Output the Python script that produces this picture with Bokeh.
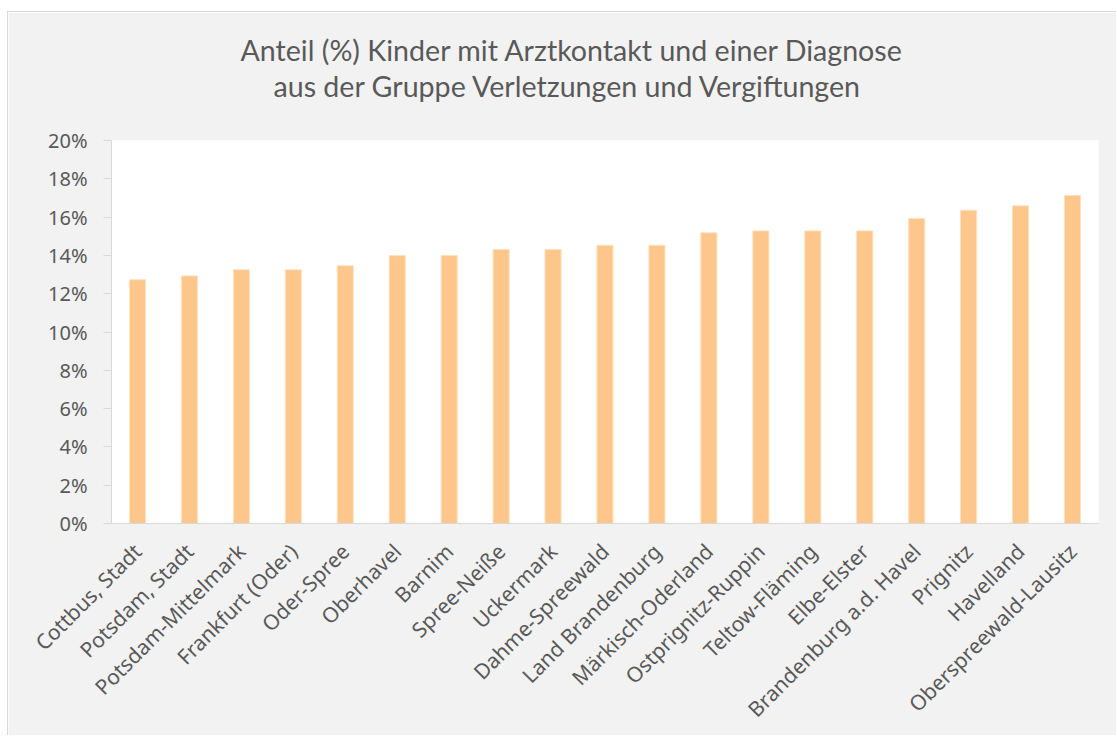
from bokeh.plotting import figure
from bokeh.models import ColumnDataSource, Title, NumeralTickFormatter, SingleIntervalTicker, Range1d
from bokeh.embed import file_html
from bokeh.resources import INLINE
import math

regions = [
    "Cottbus, Stadt", "Potsdam, Stadt", "Potsdam-Mittelmark", "Frankfurt (Oder)",
    "Oder-Spree", "Oberhavel", "Barnim", "Spree-Neiße", "Uckermark",
    "Dahme-Spreewald", "Land Brandenburg", "Märkisch-Oderland",
    "Ostprignitz-Ruppin", "Teltow-Fläming", "Elbe-Elster",
    "Brandenburg a.d. Havel", "Prignitz", "Havelland", "Oberspreewald-Lausitz",
]
shares = [
    0.1273, 0.1293, 0.1325, 0.1325, 0.1346, 0.1399, 0.1400, 0.1431, 0.1431,
    0.1453, 0.1453, 0.1518, 0.1528, 0.1528, 0.1528, 0.1593, 0.1636, 0.1659, 0.1713,
]
title_lines = [
    "Anteil (%) Kinder mit Arztkontakt und einer Diagnose",
    "aus der Gruppe Verletzungen und Vergiftungen",
]

TEXT = "#595959"
GRID = "#d9d9d9"
BG = "#f2f2f2"

src = ColumnDataSource(dict(region=regions, share=shares))

p = figure(
    x_range=regions, y_range=Range1d(0, 0.20),
    width=1109, height=724,
    output_backend="svg", toolbar_location=None,
    min_border_left=103, min_border_right=19,
    min_border_top=128, min_border_bottom=213,
)
p.styles = {"margin-left": "7px", "margin-top": "11px",
            "border-left": "1px solid #d9d9d9", "border-top": "1px solid #d9d9d9"}
p.title.text = ""
p.border_fill_color = BG
p.background_fill_color = "white"
p.outline_line_color = None

p.vbar(x="region", top="share", width=0.31, source=src,
       fill_color="#fdc68a", line_color="#fde2c2", line_width=1)

p.xgrid.grid_line_color = None
p.ygrid.grid_line_color = None

p.yaxis.ticker = SingleIntervalTicker(interval=0.02)
p.yaxis.formatter = NumeralTickFormatter(format="0%")
p.yaxis.axis_line_color = GRID
p.yaxis.major_tick_line_color = GRID
p.yaxis.major_tick_out = 8
p.yaxis.major_tick_in = 0
p.yaxis.minor_tick_line_color = None
p.yaxis.major_label_text_font = "Noto Sans"
p.yaxis.major_label_text_font_size = "20px"
p.yaxis.major_label_text_color = TEXT
p.yaxis.major_label_standoff = 16

p.xaxis.axis_line_color = GRID
p.xaxis.major_tick_line_color = None
p.xaxis.minor_tick_line_color = None
p.xaxis.major_label_orientation = math.pi / 4
p.xaxis.major_label_text_font = "Noto Sans"
p.xaxis.major_label_text_font_size = "21px"
p.xaxis.major_label_text_color = TEXT
p.xaxis.major_label_standoff = 18

# spacer between frame and title block
p.add_layout(Title(text=" ", standoff=4, text_font="Lato", text_font_size="26px",
                   text_color=BG), "above")
# title lines: line 2 closest to the frame, line 1 above it
p.add_layout(Title(text=title_lines[1], align="left", offset=162, standoff=0,
                   text_font="Lato", text_font_size="28.6px",
                   text_font_style="normal", text_color=TEXT), "above")
p.add_layout(Title(text=title_lines[0], align="left", offset=129, standoff=0,
                   text_font="Lato", text_font_size="28.6px",
                   text_font_style="normal", text_color=TEXT), "above")

open("out.html", "w").write(file_html(p, INLINE))
